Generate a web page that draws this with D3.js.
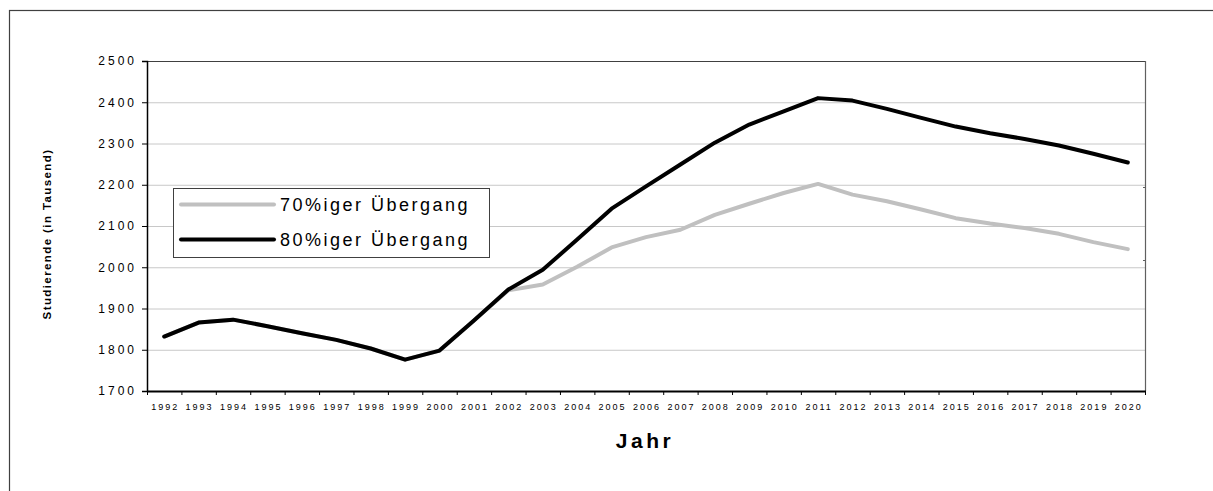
<!DOCTYPE html>
<html>
<head>
<meta charset="utf-8">
<script src="https://cdn.jsdelivr.net/npm/d3@7"></script>
<style>
  html, body { margin: 0; padding: 0; background: #fff; }
  svg { display: block; font-family: Arial, "Liberation Sans", sans-serif; }
</style>
</head>
<body>
<svg id="chart" width="1213" height="491"></svg>
<script>
const years = [1992,1993,1994,1995,1996,1997,1998,1999,2000,2001,2002,2003,2004,2005,2006,2007,2008,2009,2010,2011,2012,2013,2014,2015,2016,2017,2018,2019,2020];
const series80 = [1832,1866,1873,1857,1840,1824,1803,1776,1798,1871,1946,1994,2067,2142,2196,2249,2302,2346,2378,2410,2404,2384,2362,2341,2325,2311,2295,2275,2254];
const series70 = [1832,1866,1873,1857,1840,1824,1803,1776,1798,1871,1944,1958,2001,2048,2073,2091,2127,2154,2180,2202,2176,2160,2140,2119,2106,2095,2081,2061,2044];
const yTicks = [1700,1800,1900,2000,2100,2200,2300,2400,2500];
const seriesNames = ["70%iger Übergang", "80%iger Übergang"];
const seriesColors = ["#c0c0c0", "#000000"];

(function () {
const svg = d3.select("#chart");
const pL = 147, pR = 1145, pT = 61, pB = 391;

// outer frame
svg.append("rect").attr("x", 9.5).attr("y", 10.5).attr("width", 1220).attr("height", 520)
  .attr("fill", "none").attr("stroke", "#404040").attr("stroke-width", 1.2);

const x = d3.scaleBand().domain(years).range([pL, pR]).padding(0);
const y = d3.scaleLinear().domain([1700, 2500]).range([pB, pT]);

// gridlines
svg.append("g").selectAll("line").data(yTicks.filter(v => v > 1700 && v < 2500)).join("line")
  .attr("x1", pL).attr("x2", pR)
  .attr("y1", d => y(d) + 0.5).attr("y2", d => y(d) + 0.5)
  .attr("stroke", "#c8c8c8").attr("stroke-width", 1);

// plot border top/right
svg.append("line").attr("x1", pL).attr("x2", pR).attr("y1", pT + 0.5).attr("y2", pT + 0.5)
  .attr("stroke", "#404040").attr("stroke-width", 1.2);
svg.append("line").attr("x1", pR + 0.5).attr("x2", pR + 0.5).attr("y1", pT).attr("y2", pB)
  .attr("stroke", "#606060").attr("stroke-width", 1.2);
[187, 260].forEach(v => svg.append("line").attr("x1", pR - 2).attr("x2", pR + 0.5)
  .attr("y1", v + 0.5).attr("y2", v + 0.5).attr("stroke", "#606060").attr("stroke-width", 1));

// y axis
const yAxis = d3.axisLeft(y).tickValues(yTicks).tickSize(5).tickPadding(8).tickFormat(d3.format("d"));
const gy = svg.append("g").attr("transform", `translate(${pL},0)`).call(yAxis);
gy.select(".domain").attr("stroke", "#000").attr("stroke-width", 1.5);
gy.selectAll(".tick line").attr("stroke", "#000");
gy.selectAll(".tick text").attr("font-size", 12).attr("letter-spacing", "3px")
  .attr("fill", "#000").attr("dx", 3).attr("font-family", "Arial, 'Liberation Sans', sans-serif");

// x axis
const gx = svg.append("g").attr("transform", `translate(0,${pB})`);
gx.append("line").attr("x1", pL).attr("x2", pR + 1).attr("y1", 0.5).attr("y2", 0.5)
  .attr("stroke", "#000").attr("stroke-width", 2);
const boundaries = years.map(d => x(d)).concat([x(years[years.length - 1]) + x.bandwidth()]);
gx.selectAll("line.tk").data(boundaries).join("line").attr("class", "tk")
  .attr("x1", d => d + 0.5).attr("x2", d => d + 0.5).attr("y1", 0).attr("y2", 4)
  .attr("stroke", "#000").attr("stroke-width", 1);
gx.selectAll("text").data(years).join("text")
  .attr("x", d => x(d) + x.bandwidth() / 2 + 1).attr("y", 19)
  .attr("text-anchor", "middle").attr("font-size", 9).attr("letter-spacing", "2px")
  .attr("fill", "#000").text(d => d);

// axis titles
svg.append("text").attr("transform", "translate(51,234) rotate(-90)")
  .attr("text-anchor", "middle").attr("font-size", 11.5).attr("font-weight", "bold")
  .attr("letter-spacing", "1.4px").attr("fill", "#000").text("Studierende (in Tausend)");
svg.append("text").attr("x", 645).attr("y", 448)
  .attr("text-anchor", "middle").attr("font-size", 21).attr("font-weight", "bold")
  .attr("letter-spacing", "3.5px").attr("fill", "#000").text("Jahr");

// lines
const line = d3.line().x((d, i) => x(years[i]) + x.bandwidth() / 2).y(d => y(d));
[series70, series80].forEach((s, i) => {
  svg.append("path").datum(s).attr("d", line).attr("fill", "none")
    .attr("stroke", seriesColors[i]).attr("stroke-width", 4)
    .attr("stroke-linejoin", "round").attr("stroke-linecap", "round");
});

// legend
const lg = svg.append("g");
lg.append("rect").attr("x", 173.5).attr("y", 188.5).attr("width", 316).attr("height", 69)
  .attr("fill", "#fff").attr("stroke", "#404040").attr("stroke-width", 1);
seriesNames.forEach((n, i) => {
  const yy = 204.5 + i * 35;
  lg.append("line").attr("x1", 181).attr("x2", 274).attr("y1", yy).attr("y2", yy)
    .attr("stroke", seriesColors[i]).attr("stroke-width", 4).attr("stroke-linecap", "round");
  lg.append("text").attr("x", 280).attr("y", yy + 6.5).attr("font-size", 18)
    .attr("letter-spacing", "2.5px").attr("fill", "#000").text(n);
});
})();
</script>
</body>
</html>
